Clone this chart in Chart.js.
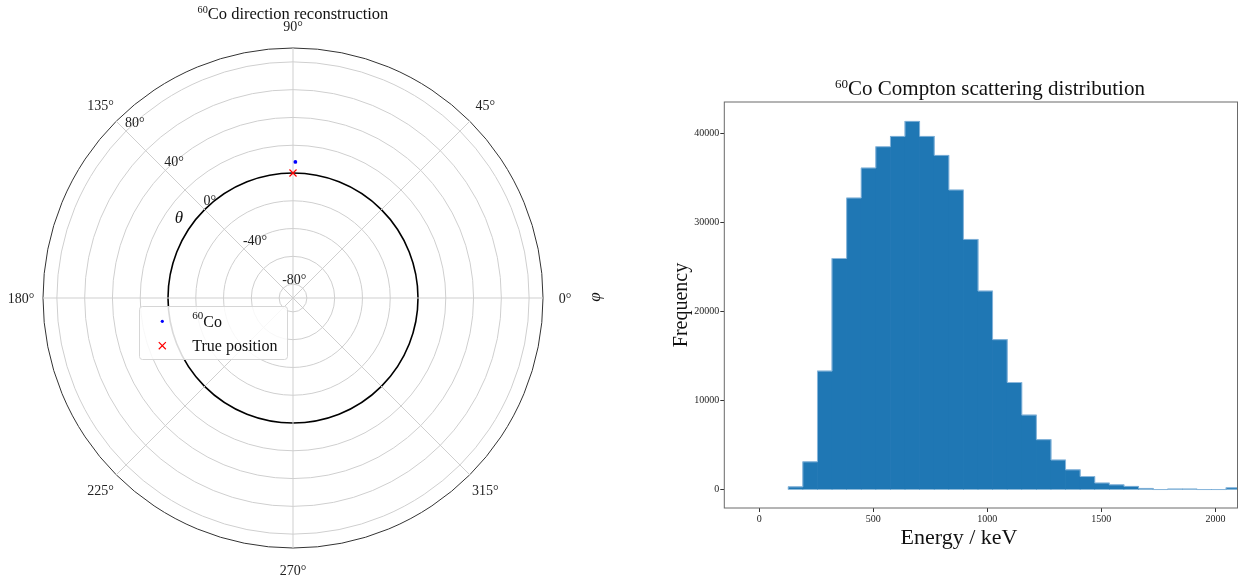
<!DOCTYPE html>
<html>
<head>
<meta charset="utf-8">
<script src="https://cdn.jsdelivr.net/npm/chart.js@4.4.1/dist/chart.umd.min.js"></script>
<style>
html,body{margin:0;padding:0;background:#fff;}
body{width:1247px;height:583px;position:relative;overflow:hidden;font-family:"Liberation Serif",serif;color:#111;}
canvas{position:absolute;top:0;}
#polar{left:0;}
#hist{left:620px;}
.lbl{position:absolute;white-space:nowrap;transform:translate(-50%,-50%);line-height:1;}
.rot{transform:translate(-50%,-50%) rotate(-90deg);}
sup{font-size:0.62em;vertical-align:0;position:relative;top:-0.55em;}
</style>
</head>
<body>
<canvas id="polar" width="600" height="583"></canvas>
<canvas id="hist" width="627" height="583"></canvas>

<div class="lbl" style="left:293px;top:14px;font-size:16.5px"><sup>60</sup>Co direction reconstruction</div>
<div class="lbl" style="left:179px;top:217px;font-size:17px;font-style:italic">θ</div>
<div class="lbl rot" style="left:594px;top:297px;font-size:17px;font-style:italic">φ</div>

<div class="lbl" style="left:990px;top:88px;font-size:21px"><sup>60</sup>Co Compton scattering distribution</div>
<div class="lbl rot" style="left:680px;top:305px;font-size:20px">Frequency</div>
<div class="lbl" style="left:959px;top:537px;font-size:22px">Energy / keV</div>

<script>
// ---------------- DATA ----------------
// Polar panel (phi = azimuth in degrees, theta = elevation in degrees)
const recoPhi = [89];
const recoTheta = [8];
const truePhi = [90];
const trueTheta = [0];
const phiTickLabels = [0, 45, 90, 135, 180, 225, 270, 315];
const thetaTickLabels = [-80, -40, 0, 40, 80];
const thetaGridValues = [-90, -80, -60, -40, -20, 0, 20, 40, 60, 80, 90];
const legendLabels = ['60Co', 'True position'];

// Histogram panel
const binLeftEdges = [127, 191, 255, 319, 383, 447, 511, 575, 639, 703, 767, 831, 895, 959, 1023, 1087,
  1151, 1215, 1279, 1343, 1407, 1471, 1535, 1599, 1663, 1727, 1791, 1855, 1919, 1983, 2047];
const binCounts = [300, 3110, 13300, 25950, 32740, 36110, 38500, 39660, 41350, 39660, 37530, 33640,
  28090, 22290, 16830, 12020, 8360, 5600, 3320, 2210, 1460, 735, 530, 360, 130, 0, 60, 60, 0, 0, 200];
const binWidth = 64;
const energyTicks = [0, 500, 1000, 1500, 2000];
const freqTicks = [0, 10000, 20000, 30000, 40000];

Chart.defaults.font.family = '"Liberation Serif", serif';
Chart.defaults.color = '#222';

// ---------------- POLAR (radar with 1-degree spokes) ----------------
const nSpokes = 360;
const phiGrid = [];
for (let i = 0; i < nSpokes; i++) phiGrid.push((90 - i + 360) % 360); // index 0 at top, counter-clockwise phi
const idxOf = phi => ((90 - Math.round(phi)) % 360 + 360) % 360;

function seriesFor(phis, thetas) {
  const arr = new Array(nSpokes).fill(null);
  phis.forEach((p, k) => { arr[idxOf(p)] = thetas[k]; });
  return arr;
}

const polarText = {
  id: 'polarText',
  afterDraw(chart) {
    const s = chart.scales.r;
    const ctx = chart.ctx;
    ctx.save();
    ctx.fillStyle = '#222';
    ctx.font = '14px "Liberation Serif"';
    ctx.textAlign = 'center';
    ctx.textBaseline = 'middle';
    phiTickLabels.forEach(phi => {
      const p = s.getPointPosition(idxOf(phi), s.drawingArea + 22);
      ctx.fillText(phi + '°', p.x, p.y + 1);
    });
    ctx.textAlign = 'left';
    thetaTickLabels.forEach(t => {
      const p = s.getPointPositionForValue(idxOf(135), t);
      ctx.fillText(t + '°', p.x - 1, p.y - 8);
    });

    // legend
    const bx = 139.5, by = 306.5, bw = 148, bh = 53;
    ctx.beginPath();
    if (ctx.roundRect) ctx.roundRect(bx, by, bw, bh, 3); else ctx.rect(bx, by, bw, bh);
    ctx.fillStyle = 'rgba(255,255,255,0.85)';
    ctx.fill();
    ctx.strokeStyle = '#d6d6d6';
    ctx.lineWidth = 1;
    ctx.stroke();

    const ds = chart.data.datasets;
    // entry 1
    ctx.fillStyle = ds[0].pointBackgroundColor;
    ctx.strokeStyle = ds[0].pointBackgroundColor;
    Chart.helpers.drawPoint(ctx, {pointStyle: 'circle', radius: 1.6, borderWidth: 0, rotation: 0}, 162.3, 321.3);
    ctx.fillStyle = '#111';
    ctx.textBaseline = 'alphabetic';
    ctx.font = '11px "Liberation Serif"';
    ctx.fillText('60', 192.3, 319);
    const w60 = ctx.measureText('60').width;
    ctx.font = '16px "Liberation Serif"';
    ctx.fillText('Co', 192.3 + w60, 326.5);
    // entry 2
    ctx.strokeStyle = ds[1].pointBorderColor;
    ctx.lineWidth = 1.2;
    Chart.helpers.drawPoint(ctx, {pointStyle: 'crossRot', radius: 5, borderWidth: 1.2, rotation: 0}, 162.3, 345.7);
    ctx.fillStyle = '#111';
    ctx.fillText(legendLabels[1], 192.3, 350.5);
    ctx.restore();
  }
};

new Chart(document.getElementById('polar'), {
  type: 'radar',
  data: {
    labels: phiGrid,
    datasets: [
      {
        label: legendLabels[0], data: seriesFor(recoPhi, recoTheta),
        showLine: false, fill: false,
        pointStyle: 'circle', pointRadius: 1.9, pointBorderWidth: 0,
        pointBackgroundColor: '#0000ff', pointBorderColor: '#0000ff'
      },
      {
        label: legendLabels[1], data: seriesFor(truePhi, trueTheta),
        showLine: false, fill: false,
        pointStyle: 'crossRot', pointRadius: 5, pointBorderWidth: 1.2,
        pointBackgroundColor: '#ff0000', pointBorderColor: '#ff0000'
      }
    ]
  },
  options: {
    responsive: false, animation: false, events: [],
    layout: {padding: {left: 43, top: 48, right: 57, bottom: 35}},
    plugins: {legend: {display: false}, tooltip: {enabled: false}, title: {display: false}},
    scales: {
      r: {
        min: -90, max: 90, startAngle: 0,
        afterBuildTicks: s => { s.ticks = thetaGridValues.map(v => ({value: v})); },
        ticks: {display: false},
        pointLabels: {display: false},
        grid: {
          circular: true,
          color: c => c.tick && c.tick.value === 90 ? '#333' : (c.tick && c.tick.value === 0 ? '#000' : '#cfcfcf'),
          lineWidth: c => c.tick && c.tick.value === 0 ? 1.6 : 1
        },
        angleLines: {
          color: '#cfcfcf',
          lineWidth: c => (phiGrid[c.index] % 45 === 0 ? 1 : 0)
        }
      }
    }
  },
  plugins: [polarText]
});

// ---------------- HISTOGRAM ----------------
const barData = binLeftEdges.map((e, i) => ({x: e + binWidth / 2, y: binCounts[i]}));
const outline = [{x: binLeftEdges[0], y: 0}];
binLeftEdges.forEach((e, i) => outline.push({x: e, y: binCounts[i]}));
outline.push({x: binLeftEdges[binLeftEdges.length - 1] + binWidth, y: 0});

const frame = {
  id: 'frame',
  afterDraw(chart) {
    const a = chart.chartArea, ctx = chart.ctx;
    ctx.save();
    ctx.strokeStyle = '#6a6a6a';
    ctx.lineWidth = 1;
    ctx.strokeRect(a.left, a.top, a.right - a.left, a.bottom - a.top);
    ctx.restore();
  }
};

new Chart(document.getElementById('hist'), {
  type: 'bar',
  data: {
    datasets: [
      {
        type: 'line', data: outline, stepped: 'before', order: 0,
        borderColor: 'rgba(150,190,225,0.85)', borderWidth: 1, pointRadius: 0, fill: false
      },
      {
        type: 'bar', data: barData, order: 1,
        backgroundColor: '#1f77b4', borderWidth: 0,
        barPercentage: 1, categoryPercentage: 1
      }
    ]
  },
  options: {
    responsive: false, animation: false, events: [],
    layout: {padding: {left: 0, right: 9.5, top: 102, bottom: 45}},
    plugins: {legend: {display: false}, tooltip: {enabled: false}},
    scales: {
      x: {
        type: 'linear', min: -153.5, max: 2097, offset: false,
        afterBuildTicks: s => { s.ticks = energyTicks.map(v => ({value: v})); },
        afterFit: s => { s.height = 30; },
        grid: {display: true, drawOnChartArea: false, drawTicks: true, tickLength: 4, color: '#333', offset: false},
        border: {display: false},
        ticks: {padding: 1, font: {size: 10}, color: '#222', maxRotation: 0, callback: v => String(v)}
      },
      y: {
        type: 'linear', min: -2072, max: 43522,
        afterBuildTicks: s => { s.ticks = freqTicks.map(v => ({value: v})); },
        afterFit: s => { s.width = 104.3; },
        grid: {display: true, drawOnChartArea: false, drawTicks: true, tickLength: 4, color: '#333'},
        border: {display: false},
        ticks: {padding: 1, font: {size: 10}, color: '#222', callback: v => String(v)}
      }
    }
  },
  plugins: [frame]
});
</script>
</body>
</html>
